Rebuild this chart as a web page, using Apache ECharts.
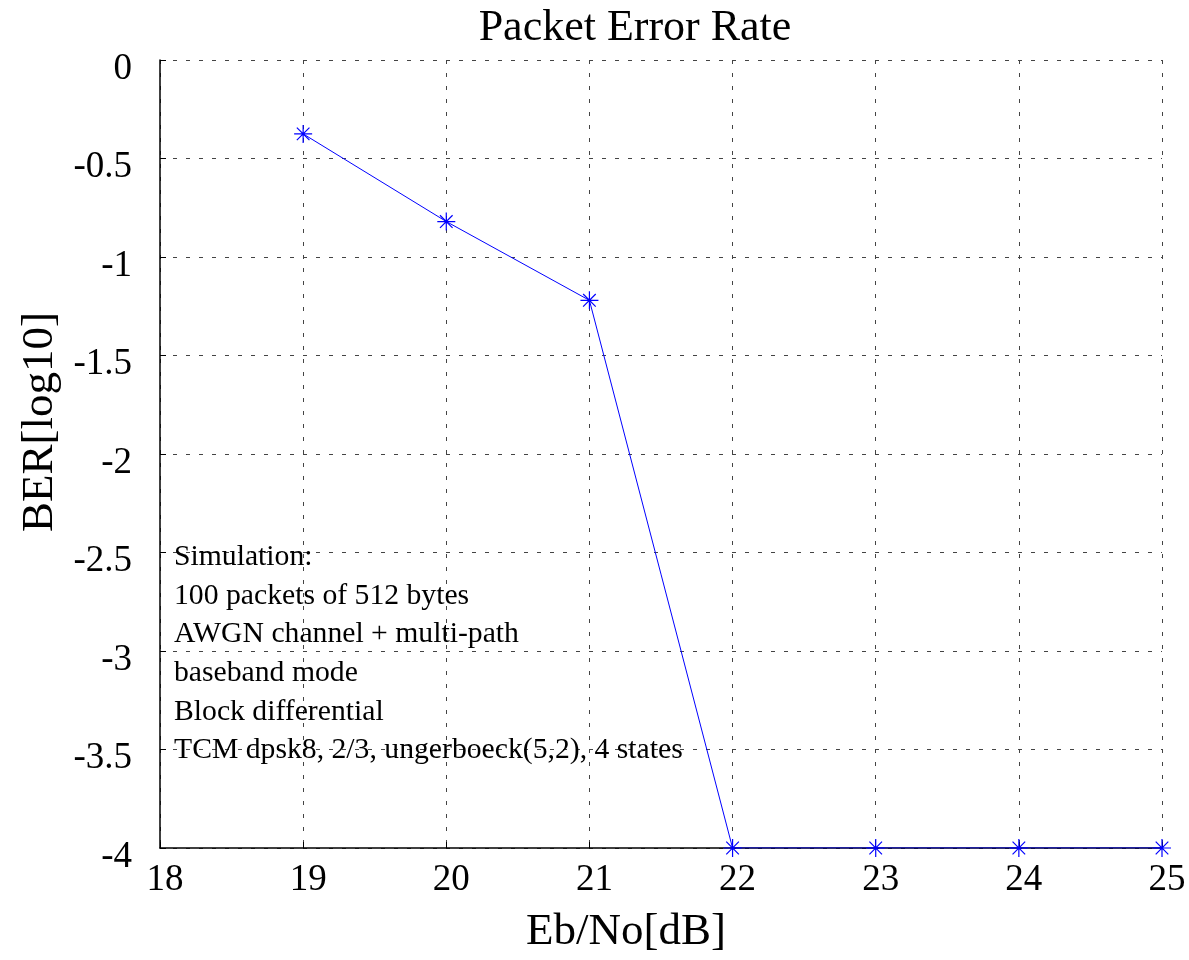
<!DOCTYPE html>
<html><head><meta charset="utf-8">
<script src="https://cdn.jsdelivr.net/npm/echarts@6/dist/echarts.min.js"></script>
<style>html,body{margin:0;padding:0;background:#fff}#c{width:1189px;height:960px}</style>
</head><body><div id="c"></div>
<script>
const ebNo = [19, 20, 21, 22, 23, 24, 25];
const berLog = [-0.375, -0.82, -1.22, -4, -4, -4, -4];
const notes = [
  'Simulation:',
  '100 packets of 512 bytes',
  'AWGN channel + multi-path',
  'baseband mode',
  'Block differential',
  'TCM dpsk8, 2/3, ungerboeck(5,2), 4 states'
];
const font = 'Liberation Serif, Times New Roman, serif';
const chart = echarts.init(document.getElementById('c'));
chart.setOption({
  backgroundColor: '#fff',
  animation: false,
  title: { text: 'Packet Error Rate', left: 630, textAlign: 'center', top: 1,
    textStyle: { fontFamily: font, fontSize: 44, fontWeight: 'normal', color: '#000' } },
  grid: { left: 160, right: 27, top: 60, bottom: 111 },
  xAxis: {
    type: 'value', min: 18, max: 25, interval: 1,
    name: 'Eb/No[dB]', nameLocation: 'middle', nameGap: 62,
    nameTextStyle: { fontFamily: font, fontSize: 45, color: '#000', padding: [0, 70, 0, 0] },
    axisLine: { show: true, onZero: false, lineStyle: { color: '#000', width: 1.5 } },
    axisTick: { show: true, inside: true, length: 6, lineStyle: { color: '#000' } },
    axisLabel: { fontFamily: font, fontSize: 37, color: '#000', margin: 14, padding: [0, 0, 0, 10] },
    splitLine: { show: true, lineStyle: { color: '#444', type: [4, 9], width: 1 } }
  },
  yAxis: {
    type: 'value', min: -4, max: 0, interval: 0.5,
    name: 'BER[log10]', nameLocation: 'middle', nameGap: 96, nameRotate: 90,
    nameTextStyle: { fontFamily: font, fontSize: 45, color: '#000', padding: [0, 0, 0, 64] },
    axisLine: { show: true, onZero: false, lineStyle: { color: '#000', width: 1.5 } },
    axisTick: { show: true, inside: true, length: 6, lineStyle: { color: '#000' } },
    axisLabel: {
      margin: 28,
      formatter: v => '{t|' + v + '}',
      rich: { t: { fontFamily: font, fontSize: 37, color: '#000', padding: [18, 0, 0, 0] } }
    },
    splitLine: { show: true, lineStyle: { color: '#444', type: [4, 9], width: 1 } }
  },
  graphic: [{
    type: 'text', left: 174, top: 538, z: 10,
    style: { text: notes.join('\n'), fontFamily: font, fontSize: 29.7, lineHeight: 38.6, fill: '#000' }
  }],
  series: [{
    type: 'line',
    data: ebNo.map((x, i) => [x, berLog[i]]),
    lineStyle: { color: '#0000ff', width: 1 },
    symbol: 'path://M0,-10L0,10M-10,0L10,0M-7,-7L7,7M-7,7L7,-7',
    symbolSize: 18,
    itemStyle: { color: 'none', borderColor: '#0000ff', borderWidth: 1.2 }
  }]
});
</script></body></html>
